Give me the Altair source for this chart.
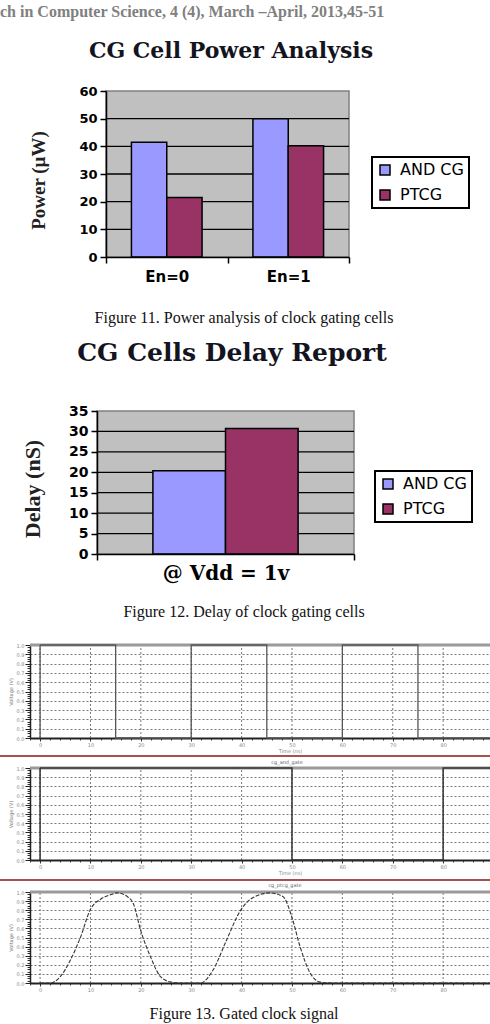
import altair as alt
import pandas as pd

W, H = 490, 1024

# ---------------- data ----------------
cell_names = ["AND CG", "PTCG"]
cell_colors = ["#9999FF", "#993366"]

# Figure 11: power of the clock-gating cells (µW)
power_groups = ["En=0", "En=1"]
power_group = ["En=0", "En=0", "En=1", "En=1"]
power_cell = ["AND CG", "PTCG", "AND CG", "PTCG"]
power_uw = [41.5, 21.5, 50.0, 40.2]
power_ticks = [0, 10, 20, 30, 40, 50, 60]

# Figure 12: delay of the clock-gating cells (nS)
delay_groups = ["@ Vdd = 1v"]
delay_group = ["@ Vdd = 1v", "@ Vdd = 1v"]
delay_cell = ["AND CG", "PTCG"]
delay_ns = [20.4, 30.7]
delay_ticks = [0, 5, 10, 15, 20, 25, 30, 35]

# Figure 13: waveforms (time in ns, voltage in V)
time_ticks = [0, 10, 20, 30, 40, 50, 60, 70, 80]
volt_ticks = [0.0, 0.1, 0.2, 0.3, 0.4, 0.5, 0.6, 0.7, 0.8, 0.9, 1.0]
minor_time = [t for t in range(-2, 90, 2)]
minor_volt = [round(k * 0.025, 3) for k in range(41)]

clk_time = [0, 0, 15, 30, 45, 60, 75, 89.5]
clk_volt = [0, 1, 0, 1, 0, 1, 0, 0]

gate_time = [0, 0, 50, 80, 89.5]
gate_volt = [0, 1, 0, 1, 1]

gclk_time = [0, 2, 4, 6, 8, 10, 12, 14, 15.3, 17.3, 18.6, 19.9, 21.9, 23.9, 26, 28,
             31.8, 34.3, 37, 39.7, 42.3, 45.6, 48.2, 50, 51.6, 53.6, 55.6, 58, 89.5]
gclk_volt = [0, 0, 0.07, 0.25, 0.5, 0.81, 0.92, 0.97, 0.99, 0.95, 0.86, 0.59, 0.29, 0.07, 0.01, 0,
             0, 0.14, 0.47, 0.79, 0.94, 0.99, 0.95, 0.72, 0.40, 0.11, 0.01, 0, 0]


# ---------------- helpers ----------------
def text_mark(s, x, y, size, font, weight="normal", color="#111111", align="center"):
    return alt.Chart(pd.DataFrame({"s": [s]})).mark_text(
        font=font, fontSize=size, fontWeight=weight, color=color, align=align, baseline="middle"
    ).encode(x=alt.value(x), y=alt.value(y), text="s:N")


def legend_at(x, y):
    return alt.Legend(
        orient="none", legendX=x, legendY=y, title=None,
        symbolType="square", symbolSize=100, symbolStrokeColor="black", symbolStrokeWidth=1.5,
        symbolOpacity=1, strokeColor="black", fillColor="white", cornerRadius=0,
        padding=5, rowPadding=9, labelFont="DejaVu Sans", labelFontSize=16,
        labelColor="black", labelOffset=7, labelLimit=200,
    )


def bar_figure(df, groups, x_rng, y_rng, y_max, ticks, bar_pad,
               x_label_font, x_label_size, x_label_pad,
               y_title, y_title_x, y_title_size, y_label_size, legend_xy):
    y_scale = alt.Scale(domain=[0, y_max], range=y_rng, nice=False)
    frame_x = alt.Scale(domain=[0, 1], range=x_rng, nice=False, zero=False)

    # grey plot background with a grey border
    bg = alt.Chart(pd.DataFrame({"k": [0]})).mark_rect(
        fill="#C0C0C0", stroke="#808080", strokeWidth=1.5
    ).encode(
        x=alt.XDatum(0, type="quantitative", scale=frame_x, axis=None),
        x2=alt.X2Datum(1),
        y=alt.YDatum(0, type="quantitative", scale=y_scale, axis=None),
        y2=alt.Y2Datum(y_max),
    )
    # black horizontal gridlines
    grid = alt.Chart(pd.DataFrame({"v": ticks[1:-1]})).mark_rule(
        color="black", strokeWidth=1.3
    ).encode(
        x=alt.XDatum(0, type="quantitative", scale=frame_x, axis=None),
        x2=alt.X2Datum(1),
        y=alt.Y("v:Q", scale=y_scale, axis=None),
    )
    # categories fill the plot width; bar groups are inset inside each category
    bars = alt.Chart(df).mark_bar(stroke="black", strokeWidth=1.5).encode(
        x=alt.X(
            "group:N", sort=groups,
            scale=alt.Scale(domain=groups, range=x_rng, paddingInner=0, paddingOuter=0),
            axis=alt.Axis(
                orient="bottom", offset=y_rng[0] - H, title=None, labelAngle=0, tickBand="extent",
                domainColor="black", domainWidth=1.5, tickColor="black", tickWidth=1.5, tickSize=6,
                labelFont=x_label_font, labelFontWeight="bold", labelFontSize=x_label_size,
                labelColor="black", labelPadding=x_label_pad, zindex=1,
            ),
        ),
        xOffset=alt.XOffset("cell:N", scale=alt.Scale(domain=cell_names, paddingInner=0,
                                                       paddingOuter=bar_pad)),
        y=alt.Y(
            "value:Q", stack=None, scale=y_scale,
            axis=alt.Axis(
                orient="left", offset=-x_rng[0], values=ticks, grid=False,
                title=y_title, titleFont="Liberation Serif", titleFontSize=y_title_size,
                titleFontWeight="bold", titleColor="#222222",
                titleX=y_title_x - x_rng[0], titleY=(y_rng[0] + y_rng[1]) / 2 + 6,
                titleAngle=270, titleAlign="center", titleBaseline="middle",
                labelFont="DejaVu Sans", labelFontWeight="bold", labelFontSize=y_label_size,
                labelColor="black", labelPadding=3,
                domainColor="black", domainWidth=1.5, tickColor="black", tickWidth=1.5, tickSize=6,
                zindex=1,
            ),
        ),
        color=alt.Color("cell:N", scale=alt.Scale(domain=cell_names, range=cell_colors),
                        legend=legend_at(*legend_xy)),
    )
    return alt.layer(bg, grid, bars).resolve_scale(x="independent").resolve_axis(y="independent")


WX = [30, 491]
T_DOMAIN = [-2, 89.5]


def wave_panel(times, volts, y_rng, interp, color, width, dash, x_title):
    df = pd.DataFrame({"t": times, "v": volts, "i": list(range(len(times)))})
    xs = alt.Scale(domain=T_DOMAIN, range=WX, nice=False, zero=False)
    ys = alt.Scale(domain=[0, 1], range=y_rng, nice=False, zero=False)
    x_off = y_rng[0] - H

    x_axis_kw = dict(
        orient="bottom", offset=x_off, values=time_ticks, format="d", grid=False,
        domainColor="#222222", domainWidth=2, tickColor="#333333", tickSize=3,
        labelFont="DejaVu Sans", labelFontSize=5, labelColor="#888888", labelPadding=1,
    )
    if x_title:
        x_axis_kw.update(title=x_title, titleFont="DejaVu Sans", titleFontSize=5,
                         titleFontWeight="normal", titleColor="#888888",
                         titleX=290, titleY=12, titleBaseline="middle")
    else:
        x_axis_kw.update(title=None)

    line = alt.Chart(df).mark_line(
        interpolate=interp, color=color, strokeWidth=width, strokeDash=dash
    ).encode(
        x=alt.X("t:Q", scale=xs, axis=alt.Axis(**x_axis_kw)),
        y=alt.Y("v:Q", scale=ys, axis=alt.Axis(
            orient="left", offset=-WX[0], values=volt_ticks, format=".1f", grid=True,
            gridColor="#555555", gridDash=[2, 2], gridWidth=0.8,
            domainColor="#222222", domainWidth=1.5, tickColor="#222222", tickSize=5,
            labelFont="DejaVu Sans", labelFontSize=5, labelColor="#888888", labelPadding=1,
            title="Voltage (V)", titleFont="DejaVu Sans", titleFontSize=5, titleFontWeight="normal",
            titleColor="#777777", titleX=10 - WX[0], titleY=(y_rng[0] + y_rng[1]) / 2,
            titleAngle=270, titleAlign="center", titleBaseline="middle",
        )),
        order="i:Q",
    )
    # vertical dotted gridlines at each time tick
    vgrid = alt.Chart(pd.DataFrame({"g": time_ticks})).mark_rule(
        color="#555555", strokeDash=[2, 2], strokeWidth=0.8
    ).encode(
        x=alt.X("g:Q", scale=xs, axis=None),
        y=alt.YDatum(0, type="quantitative", scale=ys, axis=None),
        y2=alt.Y2Datum(1),
    )
    # fine ruler ticks along both axes
    minor = alt.Chart(df).mark_line(opacity=0).encode(
        x=alt.X("t:Q", scale=xs, axis=alt.Axis(
            orient="bottom", offset=x_off, values=minor_time, labels=False, domain=False,
            grid=False, tickSize=2, tickColor="#444444", title=None)),
        y=alt.Y("v:Q", scale=ys, axis=alt.Axis(
            orient="left", offset=-WX[0], values=minor_volt, labels=False, domain=False,
            grid=False, tickSize=3, tickColor="#333333", title=None)),
    )
    # grey top frame of the plot
    top = alt.Chart(pd.DataFrame({"k": [0]})).mark_rule(color="#9a9a9a", strokeWidth=3).encode(
        x=alt.XDatum(T_DOMAIN[0], type="quantitative", scale=xs, axis=None),
        x2=alt.X2Datum(T_DOMAIN[1]),
        y=alt.YDatum(1.0, type="quantitative", scale=ys, axis=None),
    )
    return alt.layer(minor, vgrid, top, line).resolve_axis(x="independent", y="independent")


def separator(y):
    return alt.Chart(pd.DataFrame({"k": [0]})).mark_rule(color="#a65050", strokeWidth=2).encode(
        x=alt.value(0), x2=alt.value(W), y=alt.value(y)
    )


# ---------------- page ----------------
header = text_mark("ch in Computer Science, 4 (4), March \u2013April, 2013,45-51", 0, 12, 16,
                   "Liberation Serif", weight="bold", color="#808080", align="left")

title1 = text_mark("CG Cell Power Analysis", 231, 51, 22, "DejaVu Serif", weight="bold", color="#141420")
df_power = pd.DataFrame({"group": power_group, "cell": power_cell, "value": power_uw})
fig1 = bar_figure(df_power, power_groups, [106, 349], [257, 91], 60, power_ticks, 0.72,
                  "DejaVu Sans", 15, 6, "Power (\u00b5W)", 38, 19, 13, (372, 157))
cap1 = text_mark("Figure 11. Power analysis of clock gating cells", 244, 318, 16, "Liberation Serif")

title2 = text_mark("CG Cells Delay Report", 232, 353, 25, "DejaVu Serif", weight="bold", color="#141420")
df_delay = pd.DataFrame({"group": delay_group, "cell": delay_cell, "value": delay_ns})
fig2 = bar_figure(df_delay, delay_groups, [97, 354], [554, 411], 35, delay_ticks, 0.77,
                  "DejaVu Serif", 20, 3, "Delay (nS)", 32, 22, 14, (375, 471))
cap2 = text_mark("Figure 12. Delay of clock gating cells", 244, 612, 16, "Liberation Serif")

wave_a = wave_panel(clk_time, clk_volt, [738, 645], "step-after", "#555555", 1.3, [1, 0], "Time (ns)")
wave_b = wave_panel(gate_time, gate_volt, [860, 768], "step-after", "#333333", 1.5, [1, 0], "Time (ns)")
wave_c = wave_panel(gclk_time, gclk_volt, [983, 892], "monotone", "#333333", 1.1, [4, 1.5], None)
name_b = text_mark("cg_and_gate", 287, 762, 5, "DejaVu Sans", color="#666666")
name_c = text_mark("cg_ptcg_gate", 285, 885, 5, "DejaVu Sans", color="#666666")
cap3 = text_mark("Figure 13. Gated clock signal", 244, 1014, 16, "Liberation Serif")

chart = alt.layer(
    header, title1, fig1, cap1, title2, fig2, cap2,
    wave_a, separator(756), wave_b, separator(880), wave_c, name_b, name_c, cap3,
).resolve_scale(
    x="independent", y="independent", xOffset="independent", color="independent"
).properties(
    width=W, height=H, padding=0, background="white",
    autosize=alt.AutoSizeParams(type="none"),
).configure_view(stroke=None).configure_legend(strokeWidth=2)

chart.save("out.html", embed_options={"renderer": "svg", "actions": False})
